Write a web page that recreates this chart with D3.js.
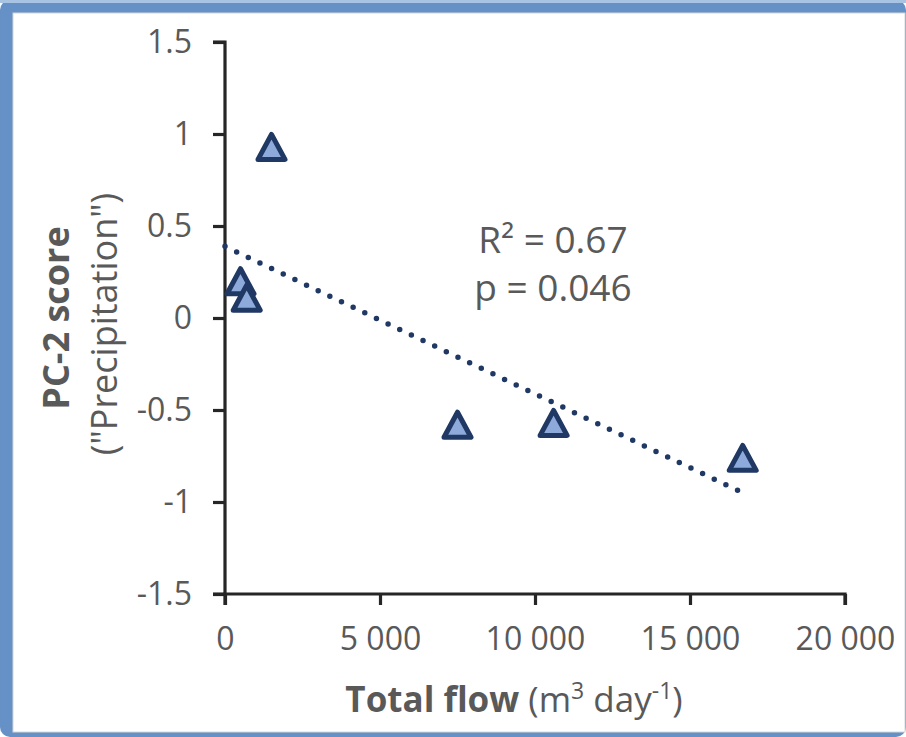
<!DOCTYPE html>
<html>
<head>
<meta charset="utf-8">
<script src="https://cdn.jsdelivr.net/npm/d3@7/dist/d3.min.js"></script>
<style>
  html, body { margin: 0; padding: 0; background: #ffffff; }
  svg { display: block; }
  text { font-family: "Open Sans", "Noto Sans", sans-serif; fill: #595959; }
</style>
</head>
<body>
<svg id="chart" width="906" height="737"></svg>
<script>
// ---- data ----
const totalFlow = [500, 700, 1500, 7500, 10600, 16700];
const pc2Score  = [0.20, 0.11, 0.93, -0.58, -0.57, -0.76];
const xTicks = [0, 5000, 10000, 15000, 20000];
const yTicks = [-1.5, -1, -0.5, 0, 0.5, 1, 1.5];
const statLines = ["R\u00B2 = 0.67", "p = 0.046"];
const xTitleBold = "Total flow ";
const yTitleLine1 = "PC-2 score";
const yTitleLine2 = "(\"Precipitation\")";

const W = 906, H = 737;
const svg = d3.select("#chart");

// frame
svg.append("rect").attr("x", 0).attr("y", 0).attr("width", W).attr("height", H)
  .attr("rx", 10).attr("fill", "#6591c6");
svg.append("rect").attr("x", 0).attr("y", 0).attr("width", W).attr("height", 3)
  .attr("fill", "#a9c3e3");
svg.append("rect").attr("x", 13).attr("y", 13).attr("width", 892).attr("height", 719)
  .attr("fill", "#ffffff").attr("stroke", "#d6d6d6").attr("stroke-width", 1);

const x = d3.scaleLinear().domain([0, 20000]).range([225, 845]);
const y = d3.scaleLinear().domain([-1.5, 1.5]).range([594, 42]);

const loc = d3.formatLocale({decimal: ".", thousands: " ", grouping: [3], currency: ["", ""], minus: "-"});
const fmtX = loc.format(",d");
const fmtY = v => loc.format("")(v);

const axisColor = "#262626";

// y axis
const gy = svg.append("g").attr("transform", `translate(${x(0)},0)`)
  .call(d3.axisLeft(y).tickValues(yTicks).tickSize(12).tickPadding(21).tickFormat(fmtY));
// x axis
const gx = svg.append("g").attr("transform", `translate(0,${y(-1.5)})`)
  .call(d3.axisBottom(x).tickValues(xTicks).tickSize(11).tickPadding(22).tickFormat(fmtX));

[gx, gy].forEach(g => {
  g.select(".domain").attr("stroke", axisColor).attr("stroke-width", 3.2);
  g.selectAll(".tick line").attr("stroke", axisColor).attr("stroke-width", 3.2);
  g.selectAll(".tick text").attr("fill", "#595959").style("font-size", "32px")
    .style("font-family", "'Open Sans', sans-serif");
});
gy.select(".domain").attr("d", `M-12,${y(1.5)}H0V${y(-1.5)}H-12`);
gx.select(".domain").attr("d", `M${x(0)},11V0H${x(20000)}V11`);

// regression trendline
const n = totalFlow.length;
const mx = d3.mean(totalFlow), my = d3.mean(pc2Score);
let sxy = 0, sxx = 0;
for (let i = 0; i < n; i++) { sxy += (totalFlow[i]-mx)*(pc2Score[i]-my); sxx += (totalFlow[i]-mx)**2; }
const slope = sxy / sxx, intercept = my - slope * mx;
const xEnd = d3.max(totalFlow);
svg.append("path")
  .attr("d", d3.line().x(d => x(d)).y(d => y(intercept + slope * d))([0, xEnd]))
  .attr("stroke", "#203864").attr("stroke-width", 5.5).attr("stroke-linecap", "round")
  .attr("stroke-dasharray", "0 12.9").attr("fill", "none");

// markers
const tri = (hw, hh) => `M0,${-hh}L${hw},${hh}L${-hw},${hh}Z`;
svg.append("g").selectAll("path").data(d3.zip(totalFlow, pc2Score)).join("path")
  .attr("transform", d => `translate(${x(d[0])},${y(d[1])})`)
  .attr("d", tri(13.5, 12.5))
  .attr("fill", "#8eaadb").attr("stroke", "#203864").attr("stroke-width", 5)
  .attr("stroke-linejoin", "round");

// stats
svg.append("g").selectAll("text").data(statLines).join("text")
  .attr("x", 553).attr("y", (d, i) => 253 + i * 48)
  .attr("text-anchor", "middle").style("font-size", "37px").text(d => d);

// x title
const xt = svg.append("text").attr("x", 514).attr("y", 712).attr("text-anchor", "middle")
  .style("font-size", "35px");
xt.append("tspan").style("font-weight", "bold").text(xTitleBold);
xt.append("tspan").text("(m");
xt.append("tspan").attr("dy", -13).style("font-size", "23px").text("3");
xt.append("tspan").attr("dy", 13).text(" day");
xt.append("tspan").attr("dy", -13).style("font-size", "23px").text("-1");
xt.append("tspan").attr("dy", 13).text(")");

// y title
svg.append("text").attr("transform", "translate(69,318) rotate(-90)")
  .attr("text-anchor", "middle").style("font-size", "36px").style("font-weight", "bold")
  .text(yTitleLine1);
svg.append("text").attr("transform", "translate(117,324) rotate(-90)")
  .attr("text-anchor", "middle").style("font-size", "36px")
  .text(yTitleLine2);
</script>
</body>
</html>
